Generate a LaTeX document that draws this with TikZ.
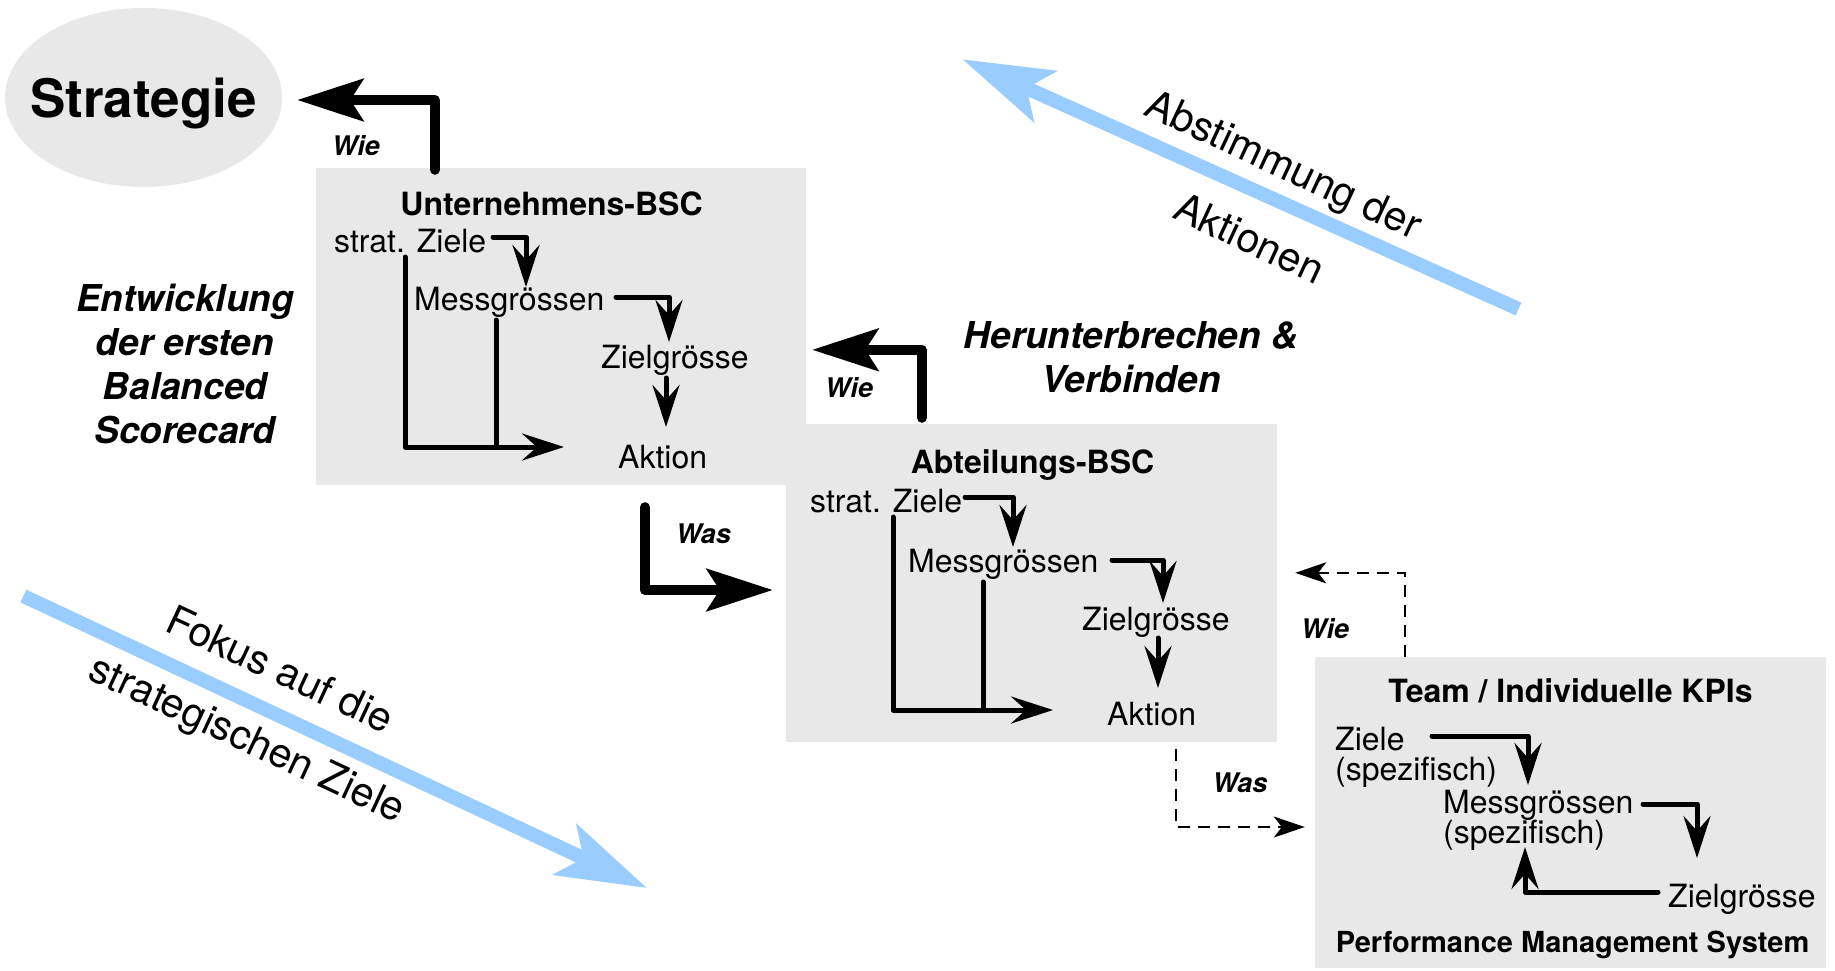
\documentclass[tikz,border=0pt]{standalone}
\usepackage{fontspec}
\setmainfont{TeX Gyre Heros}
\usetikzlibrary{arrows.meta,shapes.geometric,calc}
\definecolor{boxgray}{RGB}{232,232,232}
\definecolor{lightblue}{RGB}{153,204,255}
\begin{document}
\begin{tikzpicture}[x=1pt,y=-1pt,
  boxnode/.style={rectangle,fill=boxgray,draw=none,inner sep=0pt},
  lbl/.style={anchor=base west,inner sep=0pt,font=\fontsize{32}{38}\selectfont},
  ttl/.style={anchor=base,inner sep=0pt,font=\fontsize{32}{38}\selectfont\bfseries},
  wl/.style={anchor=base,inner sep=0pt,font=\fontsize{27}{32}\selectfont\bfseries\itshape},
  side/.style={inner sep=0pt,align=center,font=\fontsize{37}{44}\selectfont\bfseries\itshape},
  bluelbl/.style={inner sep=0pt,align=center,rotate=-25},
  inline/.style={line width=5pt,line cap=round,line join=round},
  inarr/.style={inline,-{Stealth[length=42pt,width=27pt,inset=15pt]}},
  bigarr/.style={line width=10pt,line cap=round,line join=round,-{Stealth[length=66pt,width=42pt,inset=13pt]}},
  dasharr/.style={line width=2pt,dash pattern=on 12pt off 8pt,-{Stealth[length=31pt,width=21pt,inset=8pt]}},
  bluearr/.style={draw=lightblue,line width=14pt,-{Stealth[length=90pt,width=55pt,inset=20pt]}}
]
\fill[white] (0,0) rectangle (1835,970);
\useasboundingbox (0,0) rectangle (1835,970);

% Strategie
\node[ellipse,fill=boxgray,inner sep=0pt,minimum width=277pt,minimum height=179pt,text depth=0pt,
      font=\fontsize{53}{60}\selectfont\bfseries] (strat) at (143.5,97.5) {\makebox[0pt][c]{Strategie}};

% boxes
\node[boxnode,minimum width=490pt,minimum height=317pt] (ubox) at (561,326.5) {};
\node[boxnode,minimum width=491pt,minimum height=318pt] (abox) at (1031.5,583) {};
\node[boxnode,minimum width=511pt,minimum height=311pt] (tbox) at (1570.5,812.5) {};

% Unternehmens-BSC
\node[ttl] (ut) at (551.5,215) {Unternehmens-BSC};
\node[lbl] (u1) at (334,252) {strat. Ziele};
\node[lbl] (u2) at (414,310) {Messgrössen};
\node[lbl] (u3) at (601,368) {Zielgrösse};
\node[lbl] (u4) at (618,468) {Aktion};
\draw[inarr] ($(u1.base west)+(159,-15)$) -| ($(u2.base west)+(112,-23)$);
\draw[inarr] ($(u2.base west)+(202,-13)$) -| ($(u3.base west)+(68,-26)$);
\draw[inarr] ($(u3.base west)+(65,10)$) -- ($(u4.base west)+(48,-41)$);
\draw[inarr] ($(u1.base west)+(71,5)$) |- ($(u4.base west)+(-54,-21)$) coordinate (u4in);
\draw[inline] ($(u2.base west)+(82,10)$) coordinate (u2out) -- (u2out |- u4in);

% Abteilungs-BSC
\node[ttl] (at) at (1032.5,473) {Abteilungs-BSC};
\node[lbl] (b1) at (810,512) {strat. Ziele};
\node[lbl] (b2) at (908,572) {Messgrössen};
\node[lbl] (b3) at (1082,630) {Zielgrösse};
\node[lbl] (b4) at (1107,725) {Aktion};
\draw[inarr] ($(b1.base west)+(155,-15)$) -| ($(b2.base west)+(105,-25)$);
\draw[inarr] ($(b2.base west)+(204,-12)$) -| ($(b3.base west)+(81,-27)$);
\draw[inarr] ($(b3.base west)+(76,8)$) -- ($(b4.base west)+(51,-37)$);
\draw[inarr] ($(b1.base west)+(83,5)$) |- ($(b4.base west)+(-54,-15)$) coordinate (b4in);
\draw[inline] ($(b2.base west)+(75,10)$) coordinate (b2out) -- (b2out |- b4in);

% Team
\node[ttl] (tt) at (1570.5,702) {Team / Individuelle KPIs};
\node[lbl] (t1) at (1335,750) {Ziele};
\node[lbl] (t1s) at (1335,780) {(spezifisch)};
\node[lbl] (t2) at (1443,813) {Messgrössen};
\node[lbl] (t2s) at (1443,843) {(spezifisch)};
\node[lbl] (t3) at (1668,907) {Zielgrösse};
\node[ttl,font=\fontsize{29}{34}\selectfont\bfseries] (tb) at (1572.5,952) {Performance Management System};
\draw[inarr] ($(t1.base west)+(97,-14)$) -| ($(t2.base west)+(85,-28)$);
\draw[inarr] ($(t2.base west)+(200,-9)$) -| ($(t3.base west)+(29,-49)$);
\draw[inarr] ($(t3.base west)+(-10,-15)$) -| ($(t2s.base west)+(82,4)$);

% big arrows
\draw[bigarr] ($(ubox.north west)+(119,2)$) |- ($(strat.east)+(15,2.5)$);
\draw[bigarr] ($(abox.north west)+(136,-6)$) |- ($(ubox.north east)+(6,182)$);
\draw[bigarr] ($(ubox.south west)+(329,22)$) |- ($(abox.west)+(-13,7)$);
\draw[dasharr] ($(tbox.north west)+(90,0)$) |- ($(abox.north east)+(18,149)$);
\draw[dasharr] ($(abox.south west)+(390,7)$) |- ($(tbox.west)+(-10,14.5)$);

\node[wl] (w1) at (356,155) {Wie};
\node[wl] (w2) at (849,397) {Wie};
\node[wl] (w3) at (703.5,543) {Was};
\node[wl] (w4) at (1325,638) {Wie};
\node[wl] (w5) at (1240,792) {Was};

\node[side] (ent) at (185,364.5) {Entwicklung\\der ersten\\Balanced\\Scorecard};
\node[side] (her) at (1131,356.7) {Herunterbrechen \&\\Verbinden};

% blue arrows
\coordinate (abS) at (1518.5,309);
\coordinate (abE) at (962.5,59.3);
\draw[bluearr] (abS) -- (abE);
\coordinate (foS) at (23.4,596);
\coordinate (foE) at (647,888);
\draw[bluearr] (foS) -- (foE);
\node[bluelbl,font=\fontsize{41}{82}\selectfont] (abl) at (1267,201) {Abstimmung der\\Aktionen};
\node[bluelbl,font=\fontsize{41}{76}\selectfont] (fol) at (262.5,707) {Fokus auf die\\strategischen Ziele};
\end{tikzpicture}
\end{document}
